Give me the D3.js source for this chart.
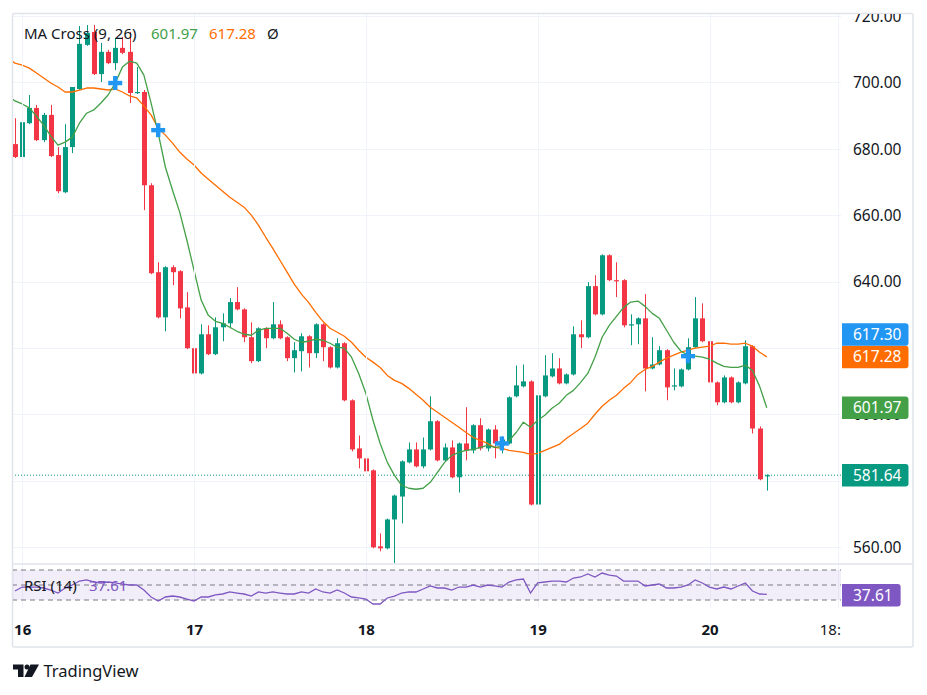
<!DOCTYPE html>
<html><head><meta charset="utf-8">
<script src="https://cdn.jsdelivr.net/npm/d3@7"></script>
<style>
html,body{margin:0;padding:0;background:#fff;}
svg{display:block;font-family:"Noto Sans",sans-serif;}
</style></head><body>
<svg id="chart" width="927" height="695"></svg>
<script>
// ---------- DATA (hourly candles, index 0 = 15th 23:00) ----------
const open = [681.4,677.5,687.7,692.3,682.6,690.2,678.1,666.9,680.5,698.0,
711.3,715.2,702.5,709.2,705.8,710.4,709.2,696.8,697.1,669.0,
642.8,629.2,644.3,643.1,632.2,619.9,612.3,624.1,618.1,626.2,
627.4,633.8,631.6,623.2,616.0,625.9,622.9,627.1,623.2,616.9,
619.0,623.5,618.4,627.1,620.2,614.1,621.4,604.2,589.7,586.7,
583.1,560.2,559.6,568.3,575.2,585.5,589.4,584.3,589.4,597.9,
586.1,590.0,581.0,591.2,589.1,596.7,589.7,595.4,590.6,591.2,
605.4,608.4,609.9,572.8,605.4,611.4,613.8,609.3,612.0,624.1,
623.2,638.6,630.1,647.9,640.4,640.4,626.8,627.1,628.9,613.8,
615.0,619.3,608.4,608.4,613.5,620.2,628.9,622.0,609.6,603.6,
611.1,603.6,609.3,620.5,595.7,581.3];
const high = [689.2,689.5,696.2,693.2,690.8,693.2,680.5,687.4,698.6,717.0,
717.3,717.3,711.9,709.8,713.4,713.7,715.2,704.6,697.7,669.6,
645.8,644.6,644.9,643.4,636.8,625.0,627.1,626.8,629.2,630.4,
635.0,638.3,631.9,627.7,626.2,626.2,633.8,628.3,623.5,621.7,
624.4,623.8,627.4,627.4,620.5,622.9,621.7,604.5,593.6,587.0,
583.4,564.1,568.6,575.8,586.1,591.5,591.5,593.0,605.4,598.2,
591.2,592.1,591.5,602.1,597.0,598.8,595.7,596.7,593.3,605.4,
614.7,615.0,610.2,606.0,617.8,618.4,616.9,612.3,626.5,628.3,
639.8,641.9,648.2,648.2,645.8,640.7,630.1,629.2,636.2,623.2,
620.5,619.6,613.8,613.8,622.9,635.3,633.4,625.3,609.9,611.7,
611.4,609.9,622.3,620.8,596.3,581.9];
const low = [677.2,677.2,687.4,682.3,682.0,677.5,666.6,666.6,678.7,697.7,
711.0,702.2,700.1,705.5,703.7,708.5,693.8,696.5,661.5,642.2,
628.9,625.0,638.9,628.9,619.6,612.0,612.0,617.8,617.8,622.0,
625.9,631.3,621.7,615.4,615.7,619.9,622.6,622.6,616.0,612.6,
612.9,614.1,616.9,616.0,613.8,613.8,603.9,588.8,583.7,578.6,
559.6,558.7,559.3,555.0,567.1,585.2,584.0,583.7,589.1,585.8,
585.8,580.7,576.4,586.1,588.2,589.1,588.8,586.7,588.2,590.9,
605.1,608.1,572.5,558.9,605.1,611.1,609.0,609.0,611.7,619.9,
622.9,629.8,629.8,640.1,635.3,626.2,620.8,621.1,606.9,613.5,
614.7,604.2,607.2,608.1,613.2,619.9,621.7,609.3,602.7,603.3,
603.3,603.3,609.0,594.2,580.1,577.0];
const close = [677.5,688.0,692.3,682.6,690.2,677.8,667.2,680.5,698.6,711.6,
714.9,702.5,709.2,705.8,710.4,708.9,696.8,697.1,669.0,642.5,
629.2,644.3,642.8,631.9,619.9,612.3,624.1,618.1,626.2,627.4,
633.8,631.6,623.2,616.0,625.9,622.9,627.1,622.9,616.9,619.3,
623.5,618.4,627.1,620.2,614.1,621.4,604.2,589.4,586.7,582.8,
559.9,559.6,568.3,575.5,585.8,589.4,584.3,589.4,597.9,586.1,
590.0,581.0,591.2,589.1,596.7,589.7,595.4,591.2,592.4,605.1,
608.7,609.9,572.8,605.7,611.7,613.8,609.3,612.0,624.1,623.2,
638.6,630.1,647.9,640.4,640.1,626.8,627.1,628.9,613.8,615.0,
619.3,608.1,608.7,613.5,620.2,628.9,622.0,609.6,603.6,611.1,
603.6,609.6,620.5,595.7,580.4,581.64];

// MA lines, starting at candle index -1
const maStart = -1;
const ma9 = [695.9,694.4,693.5,692.3,689.8,687.1,683.8,681.1,682.0,683.5,687.7,
690.7,691.7,693.8,696.2,699.8,704.6,706.4,705.8,702.2,693.8,
684.7,674.5,667.5,660.9,652.5,643.4,634.4,629.8,628.0,627.4,
626.2,625.0,624.1,623.8,625.3,625.9,625.9,625.9,624.4,622.6,
621.7,622.0,622.6,622.3,621.4,620.2,619.9,617.2,612.3,606.3,
598.2,591.2,585.5,581.6,578.6,577.7,577.4,577.7,579.5,582.5,
585.5,587.6,588.5,589.1,589.4,590.0,590.6,590.0,590.3,592.1,
594.5,597.6,596.1,598.2,599.7,601.8,603.3,605.7,607.2,609.6,
612.3,617.2,623.2,626.8,629.5,632.2,633.8,634.1,632.5,630.4,
628.9,625.3,621.7,619.0,617.8,617.5,617.2,616.6,615.4,614.4,
614.1,614.1,614.8,613.2,608.4,601.97];
const ma26 = [707.3,705.8,705.2,704.3,702.8,701.3,699.8,698.6,697.1,697.1,697.7,
698.3,698.3,698.0,697.7,698.0,697.1,695.9,695.3,692.9,690.2,
686.2,684.1,681.7,679.0,676.9,675.1,672.7,670.8,669.0,667.2,
665.4,663.9,662.4,660.0,657.0,653.4,650.0,646.4,642.8,639.2,
636.2,633.7,630.7,628.0,625.9,624.7,623.5,621.7,619.3,617.2,
615.7,614.1,611.7,610.2,609.3,607.8,606.0,604.2,602.1,600.6,
599.1,597.6,596.1,594.5,593.0,592.1,591.2,590.0,589.7,589.1,
588.8,588.5,587.9,588.2,589.1,590.0,590.9,592.7,594.2,595.7,
597.3,600.0,602.4,604.2,605.7,607.8,609.6,612.0,613.5,614.4,
615.7,616.9,617.8,618.7,619.3,619.9,620.2,620.5,621.4,621.4,
621.1,621.1,621.4,620.5,618.7,617.28];
const crossIdx = [14, 20, 68, 94];
const crossVal = [699.8, 685.6, 591.2, 617.5];

const rsi = [42.0,47.3,47.3,47.3,46.0,43.3,39.3,46.0,50.0,55.3,
56.7,54.0,52.7,54.0,52.7,51.3,50.0,50.0,43.3,34.0,
28.7,34.0,35.3,34.0,31.3,28.7,34.0,34.0,36.7,38.0,
40.7,39.3,38.0,35.3,40.7,39.3,40.7,39.3,38.0,38.0,
40.7,39.3,44.7,40.7,39.3,43.3,39.3,34.0,32.7,31.3,
24.7,24.7,32.7,35.3,39.3,40.7,40.7,44.7,48.7,46.0,
46.0,43.3,47.3,47.3,50.0,47.3,50.0,48.7,47.3,54.0,
56.7,58.0,39.3,52.7,54.0,55.3,55.3,54.0,59.3,60.7,
64.7,60.7,66.0,63.3,62.0,55.3,55.3,55.3,48.7,50.0,
51.3,46.0,46.0,47.3,50.0,56.7,52.7,47.3,44.7,47.3,
44.7,48.7,52.7,42.0,38.0,37.61];
const rsiLevels = [70, 50, 30];

// price-axis tick labels shown (620 and 580 are hidden behind the value boxes)
const priceGrid = [560, 580, 600, 620, 640, 660, 680, 700, 720];
const priceTickLabels = [560, 600, 640, 660, 680, 700, 720];
const timeTickIdx = [1, 25, 49, 73, 97, 115];
const timeTickLabels = ["16", "17", "18", "19", "20", "18:00"];
const timeTickBold = [true, true, true, true, true, false];

const markerValues = [617.28, 617.30, 601.97, 581.64];
const markerColors = ["#ff6d00", "#2196f3", "#43a047", "#089981"];
const lastPrice = 581.64;
const rsiLast = 37.61;

// ---------- LAYOUT ----------
const plotL = 12, plotR = 841, mainT = 14, mainB = 564, rsiT = 565, rsiB = 610, frameB = 647;
const upC = "#089981", dnC = "#f23645", gridC = "#f0f3fa", textC = "#131722";

const svg = d3.select("#chart");
const x = d3.scaleLinear().domain([0, 105]).range([15, 15 + 7.16 * 105]);
const y = d3.scaleLinear().domain([560, 720]).range([547, 16]);
const yr = d3.scaleLinear().domain([30, 70]).range([600, 570]);

const defs = svg.append("defs");
defs.append("clipPath").attr("id", "mainClip").append("rect")
  .attr("x", plotL + 1).attr("y", mainT).attr("width", plotR - plotL - 1).attr("height", mainB - mainT - 1);
defs.append("clipPath").attr("id", "rsiClip").append("rect")
  .attr("x", plotL + 1).attr("y", rsiT).attr("width", plotR - plotL - 1).attr("height", rsiB - rsiT);
defs.append("clipPath").attr("id", "timeClip").append("rect")
  .attr("x", plotL + 1).attr("y", rsiB).attr("width", plotR - plotL - 1).attr("height", frameB - rsiB);
defs.append("clipPath").attr("id", "axisClip").append("rect")
  .attr("x", plotR).attr("y", 14).attr("width", 72).attr("height", mainB - 14);

// frame
svg.append("rect").attr("x", 12.5).attr("y", 13.5).attr("width", 900.5).attr("height", frameB - 13.5)
  .attr("fill", "#fff").attr("stroke", "#e0e3eb").attr("stroke-width", 1.5).attr("rx", 2);

// grid
const gMain = svg.append("g").attr("clip-path", "url(#mainClip)");
gMain.selectAll("line.hg").data(priceGrid).join("line")
  .attr("x1", plotL).attr("x2", plotR).attr("y1", d => Math.round(y(d)) + 0.5).attr("y2", d => Math.round(y(d)) + 0.5)
  .attr("stroke", gridC).attr("stroke-width", 1);
svg.append("g").selectAll("line").data(timeTickIdx).join("line")
  .attr("x1", d => Math.round(x(d)) + 0.5).attr("x2", d => Math.round(x(d)) + 0.5)
  .attr("y1", mainT).attr("y2", rsiB - 1)
  .attr("stroke", gridC).attr("stroke-width", 1);

// pane separator
svg.append("line").attr("x1", 12).attr("x2", 913).attr("y1", mainB).attr("y2", mainB)
  .attr("stroke", "#e0e3eb").attr("stroke-width", 1.5);

// last price dotted line
gMain.append("line").attr("x1", plotL).attr("x2", plotR)
  .attr("y1", y(lastPrice)).attr("y2", y(lastPrice))
  .attr("stroke", upC).attr("stroke-width", 1).attr("stroke-dasharray", "1,2");

// candles
const idx = d3.range(open.length);
const cg = gMain.append("g");
cg.selectAll("line.w").data(idx).join("line")
  .attr("x1", i => Math.round(x(i)) + 0.5).attr("x2", i => Math.round(x(i)) + 0.5)
  .attr("y1", i => y(high[i])).attr("y2", i => y(low[i]))
  .attr("stroke", i => close[i] >= open[i] ? upC : dnC).attr("stroke-width", 1);
cg.selectAll("rect.b").data(idx).join("rect")
  .attr("x", i => Math.round(x(i)) - 2)
  .attr("width", 5)
  .attr("y", i => Math.min(y(open[i]), y(close[i])))
  .attr("height", i => Math.max(1.2, Math.abs(y(open[i]) - y(close[i]))))
  .attr("fill", i => close[i] >= open[i] ? upC : dnC);

// MA lines
const line = d3.line().x((d, k) => x(k + maStart)).y(d => y(d)).curve(d3.curveLinear);
gMain.append("path").datum(ma26).attr("d", line).attr("fill", "none")
  .attr("stroke", "#ff6d00").attr("stroke-width", 1.3).attr("stroke-linejoin", "round");
gMain.append("path").datum(ma9).attr("d", line).attr("fill", "none")
  .attr("stroke", "#43a047").attr("stroke-width", 1.3).attr("stroke-linejoin", "round");

// cross markers
const cm = gMain.append("g").attr("fill", "#2196f3");
crossIdx.forEach((ci, k) => {
  const cx = x(ci), cy = y(crossVal[k]);
  cm.append("rect").attr("x", cx - 7).attr("y", cy - 2.2).attr("width", 14).attr("height", 4.4);
  cm.append("rect").attr("x", cx - 2.2).attr("y", cy - 7).attr("width", 4.4).attr("height", 14);
});

// legend
const leg = svg.append("g").attr("font-size", 15);
leg.append("text").attr("x", 24).attr("y", 38.5).attr("fill", textC).text("MA Cross (9, 26)");
leg.append("text").attr("x", 151).attr("y", 38.5).attr("fill", "#43a047").text(d3.format(".2f")(ma9[ma9.length - 1]));
leg.append("text").attr("x", 209).attr("y", 38.5).attr("fill", "#ff6d00").text(d3.format(".2f")(ma26[ma26.length - 1]));
leg.append("text").attr("x", 267).attr("y", 38.5).attr("fill", textC).text("Ø");

// price axis (wrapper holds the clip so the axis transform does not shift it)
const pWrap = svg.append("g").attr("clip-path", "url(#axisClip)");
const pAxis = pWrap.append("g")
  .attr("transform", `translate(${plotR},0)`)
  .call(d3.axisRight(y).tickValues(priceTickLabels).tickFormat(d3.format(".2f")).tickSize(0));
pAxis.select(".domain").remove();
pAxis.selectAll("text").attr("x", 12).attr("dy", "0.35em")
  .attr("fill", textC).attr("font-size", 15.5).attr("font-family", "Noto Sans");

// price markers
const boxH = 22.5;
const placed = [];
markerValues.forEach((v, k) => {
  let cy = y(v);
  let moved = true;
  while (moved) {
    moved = false;
    for (const p of placed) {
      if (Math.abs(p - cy) < boxH) { cy = p - boxH; moved = true; }
    }
  }
  placed.push(cy);
  const g = svg.append("g");
  const t = g.append("text").attr("x", 853).attr("y", cy).attr("dy", "0.36em")
    .attr("fill", "#fff").attr("font-size", 15.5).text(d3.format(".2f")(v));
  const tw = t.node().getComputedTextLength();
  g.insert("path", "text").attr("fill", markerColors[k])
    .attr("d", `M842,${cy - boxH / 2}H${853 + tw + 4}q3,0 3,3V${cy + boxH / 2 - 3}q0,3 -3,3H842Z`);
});

// RSI pane
const gR = svg.append("g").attr("clip-path", "url(#rsiClip)");
gR.append("rect").attr("x", plotL).attr("width", plotR - plotL)
  .attr("y", yr(70)).attr("height", yr(30) - yr(70)).attr("fill", "rgba(126,87,194,0.1)");
gR.selectAll("line.lv").data(rsiLevels).join("line")
  .attr("x1", plotL).attr("x2", plotR).attr("y1", d => yr(d)).attr("y2", d => yr(d))
  .attr("stroke", "#787b86").attr("stroke-width", 1).attr("stroke-dasharray", "5,4");
gR.append("path").datum(rsi).attr("fill", "none").attr("stroke", "#7e57c2").attr("stroke-width", 1.3)
  .attr("d", d3.line().x((d, k) => x(k)).y(d => yr(d)));
svg.append("text").attr("x", 24).attr("y", 591).attr("font-size", 15).attr("fill", textC).text("RSI (14)");
svg.append("text").attr("x", 89).attr("y", 591).attr("font-size", 15).attr("fill", "#7e57c2").text(d3.format(".2f")(rsiLast));
{
  const cy = yr(rsiLast) + 1;
  const g = svg.append("g");
  const t = g.append("text").attr("x", 853).attr("y", cy).attr("dy", "0.36em")
    .attr("fill", "#fff").attr("font-size", 15.5).text(d3.format(".2f")(rsiLast));
  const tw = t.node().getComputedTextLength();
  g.insert("path", "text").attr("fill", "#7e57c2")
    .attr("d", `M842,${cy - boxH / 2}H${853 + tw + 5}q3,0 3,3V${cy + boxH / 2 - 3}q0,3 -3,3H842Z`);
}

// time axis
const tWrap = svg.append("g").attr("clip-path", "url(#timeClip)");
const tAxis = tWrap.append("g")
  .attr("transform", `translate(0,${rsiB})`)
  .call(d3.axisBottom(x).tickValues(timeTickIdx).tickFormat((d, k) => timeTickLabels[k]).tickSize(0));
tAxis.select(".domain").remove();
tAxis.selectAll("text").attr("y", 14).attr("dy", "0.71em")
  .attr("fill", textC).attr("font-size", 15).attr("font-family", "Noto Sans")
  .attr("font-weight", (d, k) => timeTickBold[k] ? 700 : 400);

// TradingView logo
const logo = svg.append("g").attr("fill", textC);
logo.append("path").attr("d", "M13,664.5H23.5V677H18V669.5H13Z");
logo.append("circle").attr("cx", 27).attr("cy", 667).attr("r", 2.5);
logo.append("path").attr("d", "M30.5,664.5H39L32,677H24.5Z");
logo.append("text").attr("x", 43.5).attr("y", 677).attr("font-size", 16.5).attr("fill", textC)
  .attr("font-family", "Noto Sans").text("TradingView");
</script>
</body></html>
